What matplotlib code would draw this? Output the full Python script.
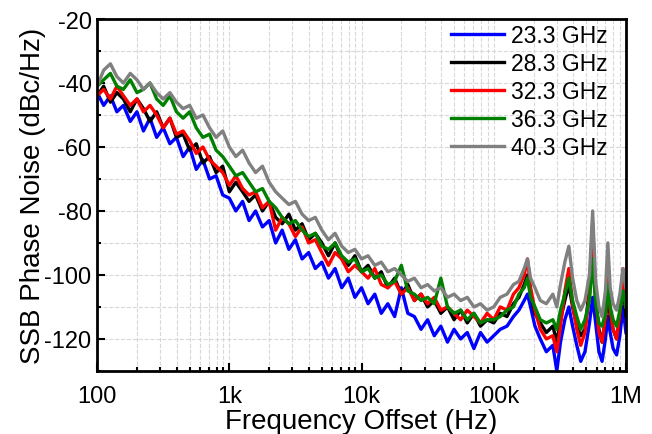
import numpy as np
import matplotlib
matplotlib.use("Agg")
import matplotlib.pyplot as plt
from matplotlib.ticker import FixedLocator, MultipleLocator, LogLocator

plt.rcParams['font.family'] = ['Liberation Sans', 'DejaVu Sans']
plt.rcParams['axes.unicode_minus'] = False

# offset frequencies (Hz)
freq = [100, 112, 126, 141, 158, 178, 200, 224, 251, 282,
        316, 355, 398, 447, 501, 562, 631, 708, 794, 891,
        1000, 1120, 1260, 1410, 1580, 1780, 2000, 2240, 2510, 2820,
        3160, 3550, 3980, 4470, 5010, 5620, 6310, 7080, 7940, 8910,
        10000, 11200, 12600, 14100, 15800, 17800, 20000, 22400, 25100, 28200,
        31600, 35500, 39800, 44700, 50100, 56200, 63100, 70800, 79400, 89100,
        100e3, 112e3, 126e3, 141e3, 155e3, 170e3, 180e3, 190e3, 205e3, 225e3,
        250e3, 280e3, 300e3, 320e3, 345e3, 370e3, 395e3, 425e3, 455e3, 490e3,
        530e3, 560e3, 590e3, 625e3, 660e3, 700e3, 730e3, 760e3, 800e3, 850e3,
        900e3, 950e3, 1e6]

pn_23 = [-43, -47, -44, -49, -47, -52, -49, -55, -51, -57,
         -54, -59, -57, -63, -60, -67, -64, -70, -69, -75,
         -76, -80, -77, -83, -80, -85, -83, -90, -86, -92,
         -89, -95, -93, -98, -96, -101, -98, -104, -101, -107,
         -104, -109, -106, -112, -109, -113, -104, -112, -113, -117,
         -114, -119, -116, -121, -117, -120, -118, -123, -118, -121,
         -119, -117, -116, -113, -111, -108, -106, -110, -116, -120,
         -124, -122, -130, -121, -114, -110, -116, -122, -127, -124,
         -115, -107, -115, -124, -127, -120, -113, -118, -123, -125,
         -119, -110, -118]

pn_28 = [-44, -41, -46, -43, -45, -49, -45, -48, -52, -49,
         -54, -51, -57, -56, -61, -59, -65, -63, -68, -66,
         -74, -71, -74, -77, -75, -80, -77, -82, -84, -81,
         -86, -84, -89, -87, -90, -94, -90, -95, -97, -94,
         -99, -97, -101, -99, -104, -101, -106, -103, -108, -106,
         -110, -108, -112, -110, -114, -111, -115, -112, -116, -114,
         -115, -112, -113, -109, -107, -103, -100, -106, -112, -115,
         -118, -116, -121, -114, -108, -103, -110, -116, -119, -117,
         -104, -84, -108, -117, -121, -114, -106, -113, -117, -120,
         -113, -103, -113]

pn_32 = [-44, -42, -45, -41, -44, -47, -45, -49, -47, -50,
         -54, -51, -56, -55, -58, -62, -60, -64, -66, -68,
         -72, -69, -73, -75, -74, -79, -77, -86, -82, -84,
         -88, -85, -90, -89, -93, -97, -93, -95, -99, -97,
         -99, -101, -98, -103, -104, -102, -106, -104, -108, -106,
         -109, -107, -111, -110, -112, -114, -111, -113, -115, -112,
         -114, -110, -111, -106, -104, -100, -95, -104, -111, -117,
         -120, -119, -124, -116, -105, -98, -109, -117, -122, -118,
         -106, -87, -107, -118, -121, -113, -97, -111, -117, -120,
         -112, -98, -110]

pn_36 = [-41, -39, -37, -41, -42, -39, -43, -42, -40, -45,
         -47, -44, -49, -51, -49, -54, -57, -56, -61, -63,
         -66, -69, -68, -71, -74, -73, -77, -79, -82, -84,
         -83, -86, -88, -87, -91, -92, -90, -94, -96, -95,
         -99, -98, -101, -100, -103, -102, -97, -105, -106, -108,
         -107, -109, -101, -110, -112, -111, -114, -112, -115, -114,
         -114, -113, -111, -110, -106, -104, -101, -107, -110, -114,
         -115, -114, -117, -111, -106, -101, -108, -113, -117, -114,
         -108, -95, -109, -115, -116, -112, -103, -110, -114, -116,
         -111, -105, -110]

pn_40 = [-41, -36, -34, -38, -40, -37, -39, -42, -40, -43,
         -45, -43, -46, -48, -47, -51, -50, -54, -57, -55,
         -60, -63, -61, -65, -68, -66, -71, -74, -76, -78,
         -77, -81, -83, -82, -86, -89, -87, -91, -93, -92,
         -95, -94, -97, -96, -99, -98, -100, -102, -101, -104,
         -103, -105, -104, -107, -106, -108, -107, -110, -109, -111,
         -110, -107, -106, -103, -102, -98, -95, -101, -104, -108,
         -109, -106, -110, -103, -96, -91, -101, -108, -111, -108,
         -100, -80, -102, -110, -113, -105, -90, -104, -109, -111,
         -106, -98, -104]

labels = ['23.3 GHz', '28.3 GHz', '32.3 GHz', '36.3 GHz', '40.3 GHz']
colors = ['#0000ff', '#000000', '#ff0000', '#008000', '#808080']
series = [pn_23, pn_28, pn_32, pn_36, pn_40]

fig = plt.figure(figsize=(6.52, 4.35), dpi=100)
ax = fig.add_axes([0.149, 0.145, 0.811, 0.809])

for vals, lab, c in zip(series, labels, colors):
    ax.plot(freq, vals, color=c, lw=2.4, label=lab)

ax.set_xscale('log')
ax.set_xlim(100, 1e6)
ax.set_ylim(-130, -20)
ax.xaxis.set_major_locator(FixedLocator([1e2, 1e3, 1e4, 1e5, 1e6]))
ax.set_xticklabels(['100', '1k', '10k', '100k', '1M'])
ax.xaxis.set_minor_locator(LogLocator(base=10, subs=np.arange(2, 10)))
ax.xaxis.set_minor_formatter(plt.NullFormatter())
ax.yaxis.set_major_locator(MultipleLocator(20))
ax.yaxis.set_minor_locator(MultipleLocator(10))

ax.grid(True, which='both', ls='--', color='#d8d8d8', lw=0.8)
ax.set_axisbelow(True)
ax.tick_params(which='both', direction='in', labelsize=17, width=1.5)
ax.tick_params(axis='x', pad=10)
ax.tick_params(axis='y', pad=4)
ax.tick_params(which='major', length=6)
ax.tick_params(which='minor', length=3)
for s in ax.spines.values():
    s.set_linewidth(2)

ax.set_xlabel('Frequency Offset (Hz)', fontsize=20, labelpad=1)
ax.set_ylabel('SSB Phase Noise (dBc/Hz)', fontsize=20, labelpad=-1)

ax.legend(loc='upper right', frameon=False, fontsize=16.5, handlelength=2.3,
          labelspacing=0.22, borderaxespad=0.1, handletextpad=0.3,
          borderpad=0.1, bbox_to_anchor=(0.974, 1.0))

fig.savefig('out.png', dpi=100)
